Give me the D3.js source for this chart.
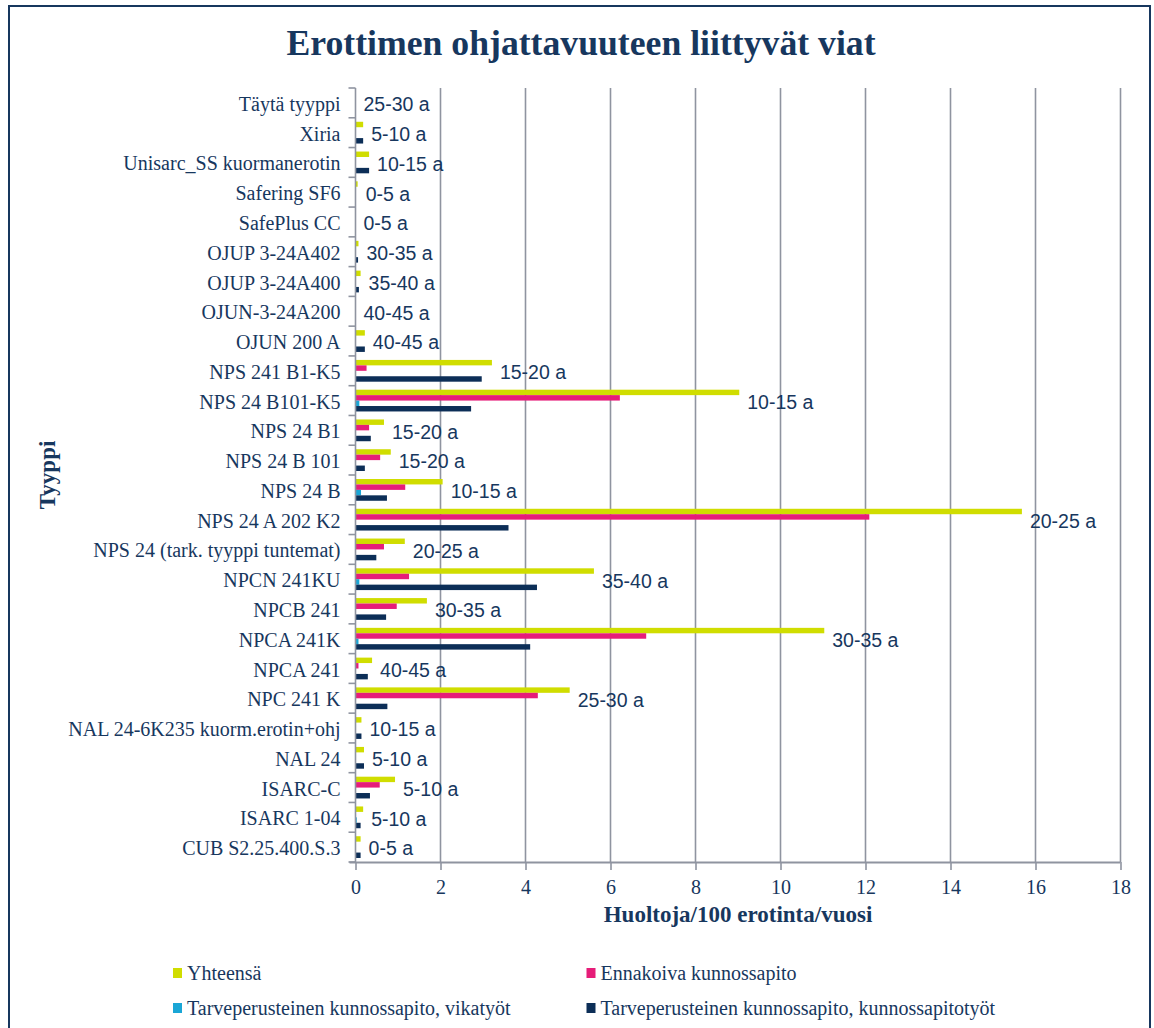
<!DOCTYPE html>
<html>
<head>
<meta charset="utf-8">
<script src="https://cdn.jsdelivr.net/npm/d3@7"></script>
<style>
  html, body { margin: 0; padding: 0; background: #fff; }
  svg { display: block; }
</style>
</head>
<body>
<div id="chart"></div>
<script>
// category order from top to bottom as shown
const categories = [
    "Täytä tyyppi", "Xiria", "Unisarc_SS kuormanerotin", "Safering SF6", "SafePlus CC",
    "OJUP 3-24A402", "OJUP 3-24A400", "OJUN-3-24A200", "OJUN 200 A", "NPS 241 B1-K5",
    "NPS 24 B101-K5", "NPS 24 B1", "NPS 24 B 101", "NPS 24 B", "NPS 24 A 202 K2",
    "NPS 24 (tark. tyyppi tuntemat)", "NPCN 241KU", "NPCB 241", "NPCA 241K", "NPCA 241",
    "NPC 241 K", "NAL 24-6K235 kuorm.erotin+ohj", "NAL 24", "ISARC-C", "ISARC 1-04",
    "CUB S2.25.400.S.3"
];

const yhteensa = [0, 0.18, 0.32, 0.05, 0, 0.07, 0.12, 0, 0.22, 3.21,
    9.03, 0.67, 0.83, 2.05, 15.68, 1.16, 5.61, 1.68, 11.03, 0.39,
    5.04, 0.14, 0.2, 0.93, 0.18, 0.12];
const ennakoiva = [0, 0, 0, 0, 0, 0, 0, 0, 0, 0.26,
    6.22, 0.32, 0.58, 1.17, 12.09, 0.67, 1.26, 0.97, 6.84, 0.07,
    4.29, 0, 0, 0.57, 0, 0];
const vikatyot = [0, 0, 0, 0, 0, 0, 0, 0, 0, 0,
    0.09, 0, 0, 0.13, 0, 0, 0.09, 0, 0.07, 0,
    0, 0, 0, 0, 0.03, 0];
const kunnossapitotyot = [0, 0.18, 0.32, 0, 0, 0.06, 0.08, 0, 0.22, 2.97,
    2.72, 0.36, 0.22, 0.74, 3.6, 0.49, 4.27, 0.72, 4.11, 0.29,
    0.75, 0.14, 0.2, 0.34, 0.12, 0.12];
const ages = ["25-30 a", "5-10 a", "10-15 a", "0-5 a", "0-5 a", "30-35 a", "35-40 a", "40-45 a", "40-45 a", "15-20 a",
    "10-15 a", "15-20 a", "15-20 a", "10-15 a", "20-25 a", "20-25 a", "35-40 a", "30-35 a", "30-35 a", "40-45 a",
    "25-30 a", "10-15 a", "5-10 a", "5-10 a", "5-10 a", "0-5 a"];

const xTicks = [0, 2, 4, 6, 8, 10, 12, 14, 16, 18];

const seriesNames = [
    "Yhteensä",
    "Ennakoiva kunnossapito",
    "Tarveperusteinen kunnossapito, vikatyöt",
    "Tarveperusteinen kunnossapito, kunnossapitotyöt"
];
const seriesValues = [yhteensa, ennakoiva, vikatyot, kunnossapitotyot];
const seriesColors = ["#d0dd00", "#e61d79", "#1aa6d6", "#0c2e57"];

const width = 1154, height = 1028;
const textColor = "#17375e";
const gridColor = "#8f94a0";
const serif = "'Liberation Serif', 'Times New Roman', serif";
const sans = "'Liberation Sans', Arial, sans-serif";

const margin = {top: 88, left: 355.5, right: 1120.5, bottom: 862};

const svg = d3.select("#chart").append("svg")
    .attr("width", width)
    .attr("height", height);

svg.append("rect")
    .attr("x", 9).attr("y", 6)
    .attr("width", 1141).attr("height", 1040)
    .attr("fill", "#fff")
    .attr("stroke", "#17375e")
    .attr("stroke-width", 2);

svg.append("text")
    .attr("x", 581).attr("y", 55)
    .attr("text-anchor", "middle")
    .attr("font-family", serif)
    .attr("font-weight", "bold")
    .attr("font-size", "35.7px")
    .attr("fill", textColor)
    .text("Erottimen ohjattavuuteen liittyvät viat");

const x = d3.scaleLinear().domain([0, 18]).range([margin.left, margin.right]);
const y = d3.scaleBand().domain(categories).range([margin.top, margin.bottom]);
const bw = y.bandwidth();
const ySub = d3.scaleBand().domain(d3.range(4)).range([4, bw - 4]);

// gridlines
svg.append("g")
    .selectAll("line")
    .data(xTicks.slice(1))
    .join("line")
    .attr("x1", d => x(d)).attr("x2", d => x(d))
    .attr("y1", margin.top).attr("y2", margin.bottom)
    .attr("stroke", gridColor)
    .attr("stroke-width", 1.6);

// bars
const rows = categories.map((c, i) => ({cat: c, i}));
seriesValues.forEach((vals, s) => {
    svg.append("g")
        .selectAll("rect")
        .data(rows.filter(r => vals[r.i] > 0))
        .join("rect")
        .attr("x", x(0))
        .attr("y", r => y(r.cat) + ySub(s))
        .attr("width", r => x(vals[r.i]) - x(0))
        .attr("height", ySub.bandwidth())
        .attr("fill", seriesColors[s]);
});

// bottom axis
const xAxis = svg.append("g")
    .attr("transform", `translate(0,${margin.bottom})`)
    .attr("font-family", serif)
    .call(d3.axisBottom(x).tickValues(xTicks).tickSize(8).tickPadding(10).tickFormat(d3.format("d")));
xAxis.attr("font-family", serif).attr("font-size", 20);
xAxis.select(".domain")
    .attr("stroke", gridColor).attr("stroke-width", 2)
    .attr("d", `M${margin.left - 6},0.5H${margin.right}`);
xAxis.selectAll(".tick line").attr("stroke", gridColor).attr("stroke-width", 1.6);
xAxis.selectAll(".tick text")
    .style("font-family", serif)
    .style("font-size", "20px")
    .attr("fill", textColor);

// left axis
const yAxis = svg.append("g")
    .attr("transform", `translate(${margin.left},0)`)
    .call(d3.axisLeft(y).tickSize(0).tickPadding(15));
yAxis.attr("font-family", serif).attr("font-size", 20);
yAxis.select(".domain")
    .attr("stroke", gridColor).attr("stroke-width", 1.6)
    .attr("d", `M0,${margin.top}V${margin.bottom}`);
yAxis.selectAll(".tick text")
    .style("font-family", serif)
    .style("font-size", "20px")
    .attr("fill", textColor)
    .attr("dy", "0.4em");

// boundary ticks on the category axis
svg.append("g")
    .selectAll("line")
    .data(categories.map(c => y(c)).concat([margin.bottom]))
    .join("line")
    .attr("x1", margin.left - 7).attr("x2", margin.left)
    .attr("y1", d => d).attr("y2", d => d)
    .attr("stroke", gridColor)
    .attr("stroke-width", 1.6);

// age labels
svg.append("g")
    .selectAll("text")
    .data(rows)
    .join("text")
    .attr("x", r => x(yhteensa[r.i]) + 8)
    .attr("y", r => y(r.cat) + bw / 2 + 1.5)
    .attr("dy", "0.35em")
    .attr("font-family", sans)
    .attr("font-size", "19.5px")
    .attr("fill", textColor)
    .text(r => ages[r.i]);

// axis titles
svg.append("text")
    .attr("x", (margin.left + margin.right) / 2)
    .attr("y", 922)
    .attr("text-anchor", "middle")
    .attr("font-family", serif)
    .attr("font-weight", "bold")
    .attr("font-size", "23px")
    .attr("fill", textColor)
    .text("Huoltoja/100 erotinta/vuosi");

svg.append("text")
    .attr("transform", `translate(55,${(margin.top + margin.bottom) / 2}) rotate(-90)`)
    .attr("text-anchor", "middle")
    .attr("font-family", serif)
    .attr("font-weight", "bold")
    .attr("font-size", "23px")
    .attr("fill", textColor)
    .text("Tyyppi");

// legend
const legendPos = [[173, 973], [586.5, 973], [173, 1008], [586.5, 1008]];
const legend = svg.append("g")
    .selectAll("g")
    .data(seriesNames)
    .join("g")
    .attr("transform", (d, i) => `translate(${legendPos[i][0]},${legendPos[i][1]})`);
legend.append("rect")
    .attr("x", 0).attr("y", -5)
    .attr("width", 9).attr("height", 10)
    .attr("fill", (d, i) => seriesColors[i]);
legend.append("text")
    .attr("x", 14).attr("y", 0)
    .attr("dy", "0.35em")
    .attr("font-family", serif)
    .attr("font-size", "20px")
    .attr("fill", textColor)
    .text(d => d);
</script>
</body>
</html>
